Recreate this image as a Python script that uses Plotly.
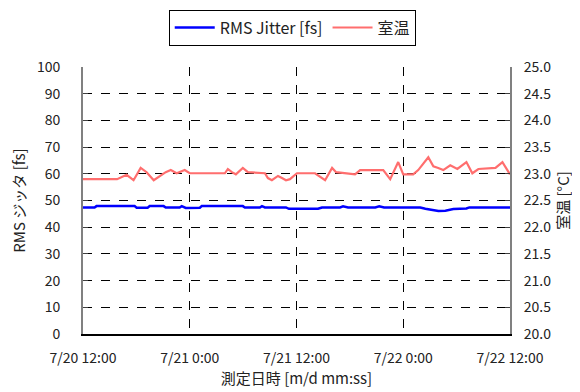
import plotly.graph_objects as go

# RMS jitter series (fs)
jitter_time = [
    "2010-07-20 12:00", "2010-07-20 13:18", "2010-07-20 13:31", "2010-07-20 17:48",
    "2010-07-20 18:02", "2010-07-20 19:16", "2010-07-20 19:30", "2010-07-20 21:04",
    "2010-07-20 21:18", "2010-07-20 22:52", "2010-07-20 23:06", "2010-07-20 23:33",
    "2010-07-21 01:08", "2010-07-21 01:21", "2010-07-21 05:58", "2010-07-21 06:12",
    "2010-07-21 07:53", "2010-07-21 08:07", "2010-07-21 08:27", "2010-07-21 10:49",
    "2010-07-21 11:09", "2010-07-21 14:25", "2010-07-21 14:52", "2010-07-21 16:54",
    "2010-07-21 17:14", "2010-07-21 17:48", "2010-07-21 20:51", "2010-07-21 21:18",
    "2010-07-21 21:51", "2010-07-22 01:55", "2010-07-22 02:29", "2010-07-22 03:57",
    "2010-07-22 04:44", "2010-07-22 05:38", "2010-07-22 07:06", "2010-07-22 07:26",
    "2010-07-22 12:00",
]
jitter_fs = [
    47.4, 47.4, 47.9, 47.9, 47.3, 47.3, 47.9, 47.9, 47.4, 47.4, 47.9, 47.2,
    47.3, 47.9, 47.9, 47.4, 47.4, 47.9, 47.4, 47.4, 46.9, 46.9, 47.4, 47.4,
    47.8, 47.4, 47.4, 47.8, 47.4, 47.4, 46.9, 46.1, 46.2, 46.8, 47.0, 47.4,
    47.4,
]

# Room temperature series (°C)
temp_time = [
    "2010-07-20 12:00", "2010-07-20 15:50", "2010-07-20 16:54", "2010-07-20 17:41",
    "2010-07-20 18:29", "2010-07-20 19:09", "2010-07-20 19:57", "2010-07-20 20:37",
    "2010-07-20 21:18", "2010-07-20 21:52", "2010-07-20 22:32", "2010-07-20 23:26",
    "2010-07-21 00:00", "2010-07-21 03:57", "2010-07-21 04:17", "2010-07-21 04:44",
    "2010-07-21 05:11", "2010-07-21 05:58", "2010-07-21 06:32", "2010-07-21 08:27",
    "2010-07-21 08:47", "2010-07-21 09:14", "2010-07-21 09:55", "2010-07-21 10:22",
    "2010-07-21 10:49", "2010-07-21 11:16", "2010-07-21 12:03", "2010-07-21 14:05",
    "2010-07-21 14:39", "2010-07-21 15:13", "2010-07-21 16:00", "2010-07-21 16:27",
    "2010-07-21 18:35", "2010-07-21 19:09", "2010-07-21 21:45", "2010-07-21 22:32",
    "2010-07-21 23:26", "2010-07-22 00:00", "2010-07-22 01:07", "2010-07-22 01:41",
    "2010-07-22 02:49", "2010-07-22 03:23", "2010-07-22 03:56", "2010-07-22 04:30",
    "2010-07-22 05:17", "2010-07-22 06:05", "2010-07-22 07:06", "2010-07-22 07:46",
    "2010-07-22 08:27", "2010-07-22 10:22", "2010-07-22 11:09", "2010-07-22 11:36",
    "2010-07-22 12:00",
]
temp_c = [
    22.90, 22.90, 22.98, 22.88, 23.11, 23.03, 22.88, 22.96, 23.03, 23.07, 23.01, 23.07,
    23.01, 23.01, 23.09, 23.03, 22.99, 23.11, 23.03, 23.01, 22.92, 22.88, 22.96, 22.92,
    22.88, 22.90, 23.01, 23.01, 22.94, 22.88, 23.11, 23.03, 22.99, 23.07, 23.07, 22.90,
    23.22, 22.99, 22.99, 23.07, 23.31, 23.14, 23.11, 23.07, 23.16, 23.09, 23.22, 23.01,
    23.09, 23.11, 23.22, 23.11, 22.99,
]

x_ticks = ["2010-07-20 12:00", "2010-07-21 00:00", "2010-07-21 12:00",
           "2010-07-22 00:00", "2010-07-22 12:00"]
x_tick_labels = ["7/20 12:00", "7/21 0:00", "7/21 12:00", "7/22 0:00", "7/22 12:00"]

FONT = "Noto Sans CJK JP"

fig = go.Figure()
fig.add_trace(go.Scatter(
    x=jitter_time, y=jitter_fs, name="RMS Jitter [fs]", mode="lines",
    line=dict(color="#0000ff", width=2.5, shape="linear"), yaxis="y",
))
fig.add_trace(go.Scatter(
    x=temp_time, y=temp_c, name="室温", mode="lines",
    line=dict(color="#ff6e6e", width=2.2), yaxis="y2",
))

# page body has an 8px margin, so the figure is sized to fit inside the window
fig.update_layout(
    width=572, height=384,
    margin=dict(l=75, r=70, t=59, b=58, autoexpand=False),
    paper_bgcolor="white", plot_bgcolor="white",
    font=dict(family=FONT, size=14, color="#222222"),
    showlegend=True,
    legend=dict(
        orientation="h", x=0.49, xanchor="center", y=1.215, yanchor="top",
        bordercolor="black", borderwidth=1, bgcolor="white",
        font=dict(family=FONT, size=16, color="#222222"),
        itemwidth=40, tracegroupgap=0,
    ),
    xaxis=dict(
        type="date",
        range=["2010-07-20 12:00", "2010-07-22 12:00"],
        tickmode="array", tickvals=x_ticks, ticktext=x_tick_labels,
        showgrid=True, gridcolor="black", griddash="dash", gridwidth=1,
        showline=True, linecolor="black", linewidth=1.5,
        ticks="", ticklabelstandoff=10,
        title=dict(text="測定日時 [m/d mm:ss]", standoff=6,
                   font=dict(family=FONT, size=15)),
        zeroline=False,
    ),
    yaxis=dict(
        range=[0, 100], dtick=10, tick0=0,
        showgrid=True, gridcolor="black", griddash="dash", gridwidth=1,
        showline=True, linecolor="#808080", linewidth=2,
        ticks="inside", ticklen=5, tickcolor="#404040",
        ticklabelstandoff=18,
        title=dict(text="RMS ジッタ [fs]", standoff=10,
                   font=dict(family=FONT, size=15)),
        zeroline=False,
    ),
    yaxis2=dict(
        range=[20, 25], dtick=0.5, tick0=20, tickformat=".1f",
        overlaying="y", side="right", showgrid=False,
        showline=True, linecolor="#808080", linewidth=2,
        ticks="inside", ticklen=5, tickcolor="#404040",
        ticklabelstandoff=9,
        title=dict(text="室温 [°C]", standoff=8,
                   font=dict(family=FONT, size=15)),
        zeroline=False,
    ),
)

fig.write_html("out.html")
